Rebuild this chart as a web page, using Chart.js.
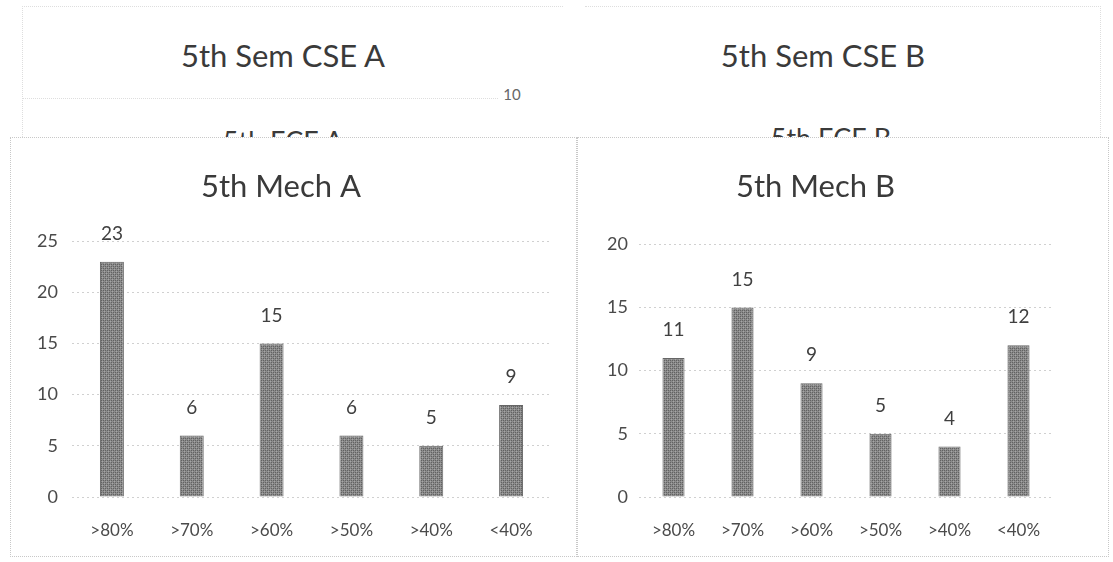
<!DOCTYPE html>
<html>
<head>
<meta charset="utf-8">
<script src="https://cdn.jsdelivr.net/npm/chart.js@4.4.1/dist/chart.umd.min.js"></script>
<style>
  html, body { margin:0; padding:0; background:#fff; }
  body { width:1113px; height:562px; position:relative; overflow:hidden; font-family: Lato, "Liberation Sans", sans-serif; }
  .back { position:absolute; color:#3a3a3a; white-space:nowrap; transform:translateX(-50%); }
  .frame { position:absolute; border:1px dotted #dedede; }
  .front { position:absolute; background:#fff; border:1px dotted #c8c8c8; }
  canvas { display:block; }
</style>
</head>
<body>
<div class="frame" style="left:22px;top:6px;width:540px;height:180px;border-bottom:none;border-right:none;"></div>
<div class="frame" style="left:585px;top:6px;width:515px;height:180px;border-bottom:none;border-left:none;"></div>
<div class="frame" style="left:22px;top:98px;width:475px;height:60px;border-bottom:none;border-right:none;"></div>
<div class="back" style="left:283px;top:36px;font-size:31px;">5th Sem CSE A</div>
<div class="back" style="left:823px;top:36px;font-size:31px;">5th Sem CSE B</div>
<div class="back" style="left:512px;top:85px;font-size:15px;color:#666;">10</div>
<div class="back" style="left:283px;top:124px;font-size:27px;">5th ECE A</div>
<div class="back" style="left:831px;top:121px;font-size:27px;">5th ECE B</div>

<div class="front" style="left:10px;top:137px;width:565px;height:418px;"><canvas id="c1" width="565" height="418"></canvas></div>
<div class="front" style="left:577px;top:137px;width:530px;height:418px;"><canvas id="c2" width="530" height="418"></canvas></div>

<script>
const categories = [">80%", ">70%", ">60%", ">50%", ">40%", "<40%"];
const mechA = [23, 6, 15, 6, 5, 9];
const mechB = [11, 15, 9, 5, 4, 12];
const titleA = "5th Mech A";
const titleB = "5th Mech B";
const yTicksA = [0, 5, 10, 15, 20, 25];
const yTicksB = [0, 5, 10, 15, 20];
const FONT = 'Lato, "Liberation Sans", sans-serif';

function makePattern() {
  const p = document.createElement('canvas');
  p.width = 4; p.height = 4;
  const g = p.getContext('2d');
  g.fillStyle = '#8a8a8a'; g.fillRect(0,0,4,4);
  g.fillStyle = '#626262';
  g.fillRect(0,0,1,1); g.fillRect(2,2,1,1); g.fillRect(2,0,1,1); g.fillRect(0,2,1,1);
  g.fillStyle = '#a6a6a6';
  g.fillRect(1,1,1,1); g.fillRect(3,3,1,1);
  return g.createPattern(p, 'repeat');
}

const valueLabels = {
  id: 'valueLabels',
  afterDatasetsDraw(chart) {
    const ctx = chart.ctx;
    ctx.save();
    ctx.font = '19px ' + FONT;
    ctx.fillStyle = '#404040';
    ctx.textAlign = 'center';
    ctx.textBaseline = 'middle';
    chart.getDatasetMeta(0).data.forEach((bar, i) => {
      ctx.fillText(String(chart.data.datasets[0].data[i]), bar.x, bar.y - 28);
    });
    ctx.restore();
  }
};

function build(id, title, values, yTicks, opts) {
  const ctx = document.getElementById(id).getContext('2d');
  return new Chart(ctx, {
    type: 'bar',
    data: {
      labels: categories,
      datasets: [{
        data: values,
        backgroundColor: makePattern(),
        borderColor: '#666666',
        borderWidth: 1,
        barPercentage: opts.barPct,
        categoryPercentage: 1.0
      }]
    },
    options: {
      responsive: false,
      animation: false,
      layout: { padding: { top: 19, right: opts.padRight, bottom: 0, left: 0 } },
      plugins: {
        legend: { display: false },
        tooltip: { enabled: false },
        title: {
          display: true, text: title, color: '#3a3a3a',
          font: { size: 31, family: FONT, weight: 'normal' },
          padding: { top: 11, bottom: opts.titleBottom }
        }
      },
      scales: {
        x: {
          grid: { display: false, drawTicks: false },
          border: { display: false },
          ticks: { color: '#4a4a4a', padding: 23, font: { size: 17, family: FONT } },
          afterFit(s) { s.height = 59; }
        },
        y: {
          min: 0, max: yTicks[yTicks.length - 1],
          afterBuildTicks(s) { s.ticks = yTicks.map(v => ({ value: v })); },
          grid: { color: '#d0d0d0', drawTicks: false, lineWidth: 1 },
          border: { display: false, dash: [2, 3] },
          ticks: { color: '#4a4a4a', padding: opts.tickPad, font: { size: 18, family: FONT } },
          afterFit(s) { s.width = opts.yWidth; }
        }
      }
    },
    plugins: [valueLabels]
  });
}

build('c1', titleA, mechA, yTicksA, { barPct: 0.3, padRight: 25, yWidth: 61, tickPad: 14, titleBottom: 36 });
build('c2', titleB, mechB, yTicksB, { barPct: 0.32, padRight: 55, yWidth: 61, tickPad: 11, titleBottom: 39 });
</script>
</body>
</html>
